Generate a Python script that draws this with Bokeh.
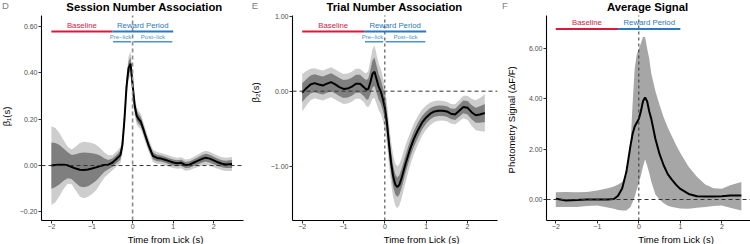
import numpy as np
from bokeh.plotting import figure
from bokeh.layouts import row, column
from bokeh.models import Span, Label, FixedTicker, Range1d
from bokeh.core.properties import value
from bokeh.embed import file_html
from bokeh.resources import INLINE

FONT = "Liberation Sans"

# ---------------- data ----------------
x_ticks = [-2, -1, 0, 1, 2]
x_tick_labels = ["\u22122", "\u22121", "0", "1", "2"]

# Panel D: Session Number Association
t_d = [-2.0, -1.9, -1.8, -1.7, -1.6, -1.5, -1.4, -1.3, -1.2, -1.1, -1.0, -0.9, -0.8, -0.7,
       -0.6, -0.5, -0.4, -0.3, -0.25, -0.2, -0.15, -0.1, -0.05, 0.0, 0.05, 0.1, 0.15, 0.2,
       0.25, 0.3, 0.4, 0.5, 0.6, 0.7, 0.8, 0.9, 1.0, 1.1, 1.2, 1.3, 1.4, 1.5, 1.6, 1.7, 1.8,
       1.9, 2.0, 2.1, 2.2, 2.3, 2.45]
mean_d = [0.000, 0.002, 0.004, 0.004, 0.001, -0.006, -0.013, -0.018, -0.019, -0.017, -0.013,
          -0.008, -0.002, 0.002, 0.004, 0.012, 0.028, 0.045, 0.09, 0.20, 0.34, 0.42, 0.44,
          0.35, 0.26, 0.215, 0.20, 0.19, 0.165, 0.137, 0.085, 0.042, 0.033, 0.030, 0.025,
          0.019, 0.013, 0.010, 0.012, 0.002, 0.004, 0.012, 0.020, 0.028, 0.034, 0.030, 0.022,
          0.014, 0.008, 0.005, 0.007]
inner_d = [0.100, 0.095, 0.085, 0.070, 0.056, 0.052, 0.062, 0.072, 0.075, 0.072, 0.066,
           0.058, 0.045, 0.030, 0.020, 0.018, 0.018, 0.020, 0.022, 0.025, 0.027, 0.028, 0.028,
           0.026, 0.024, 0.022, 0.020, 0.019, 0.018, 0.017, 0.016, 0.015, 0.014, 0.013, 0.013,
           0.013, 0.013, 0.013, 0.013, 0.013, 0.013, 0.014, 0.015, 0.016, 0.017, 0.017, 0.016,
           0.015, 0.015, 0.016, 0.017]
outer_d = [0.170, 0.160, 0.135, 0.105, 0.080, 0.075, 0.095, 0.115, 0.122, 0.118, 0.110,
           0.098, 0.078, 0.055, 0.040, 0.033, 0.032, 0.034, 0.037, 0.042, 0.046, 0.050, 0.052,
           0.048, 0.042, 0.038, 0.035, 0.033, 0.031, 0.030, 0.028, 0.027, 0.025, 0.024, 0.024,
           0.024, 0.024, 0.024, 0.024, 0.024, 0.024, 0.025, 0.027, 0.029, 0.030, 0.030, 0.029,
           0.028, 0.028, 0.029, 0.030]
y_ticks_d = [-0.2, 0.0, 0.2, 0.4, 0.6]
y_tick_labels_d = ["\u22120.20", "0.00", "0.20", "0.40", "0.60"]

# Panel E: Trial Number Association
t_e = [-2.0, -1.9, -1.8, -1.7, -1.6, -1.5, -1.4, -1.3, -1.2, -1.1, -1.0, -0.9, -0.8, -0.7,
       -0.6, -0.5, -0.45, -0.4, -0.35, -0.3, -0.25, -0.2, -0.15, -0.1, -0.05, 0.0, 0.05, 0.1,
       0.15, 0.2, 0.25, 0.3, 0.35, 0.4, 0.5, 0.6, 0.7, 0.8, 0.9, 1.0, 1.1, 1.2, 1.3, 1.4, 1.5,
       1.6, 1.7, 1.8, 1.9, 2.0, 2.1, 2.2, 2.3, 2.42]
mean_e = [-0.02, 0.04, 0.09, 0.107, 0.09, 0.076, 0.10, 0.12, 0.09, 0.055, 0.03, 0.035, 0.06,
          0.10, 0.10, 0.05, 0.02, 0.03, 0.12, 0.23, 0.26, 0.16, 0.06, 0.0, -0.10, -0.22, -0.42,
          -0.70, -0.95, -1.13, -1.24, -1.28, -1.25, -1.17, -0.97, -0.79, -0.64, -0.52, -0.42,
          -0.35, -0.30, -0.27, -0.26, -0.26, -0.27, -0.30, -0.31, -0.26, -0.21, -0.22, -0.28,
          -0.32, -0.31, -0.29]
inner_e = [0.125, 0.12, 0.12, 0.12, 0.12, 0.12, 0.12, 0.12, 0.12, 0.12, 0.12, 0.12, 0.12,
           0.12, 0.12, 0.12, 0.13, 0.14, 0.16, 0.18, 0.19, 0.18, 0.17, 0.16, 0.155, 0.15,
           0.15, 0.15, 0.145, 0.14, 0.135, 0.13, 0.13, 0.13, 0.12, 0.11, 0.105, 0.10, 0.09,
           0.08, 0.075, 0.07, 0.07, 0.07, 0.07, 0.07, 0.075, 0.08, 0.085, 0.09, 0.095, 0.10,
           0.11, 0.12]
outer_e = [0.25, 0.23, 0.21, 0.20, 0.20, 0.20, 0.20, 0.20, 0.20, 0.20, 0.20, 0.20, 0.20,
           0.20, 0.20, 0.20, 0.22, 0.24, 0.29, 0.33, 0.35, 0.33, 0.31, 0.30, 0.29, 0.28, 0.28,
           0.28, 0.28, 0.28, 0.28, 0.28, 0.275, 0.27, 0.25, 0.22, 0.205, 0.19, 0.175, 0.16,
           0.15, 0.14, 0.135, 0.13, 0.13, 0.13, 0.135, 0.14, 0.15, 0.16, 0.18, 0.20, 0.22, 0.25]
y_ticks_e = [-1.0, 0.0, 1.0]
y_tick_labels_e = ["\u22121.00", "0.00", "1.00"]

# Panel F: Average Signal
t_f = [-2.0, -1.75, -1.5, -1.25, -1.0, -0.75, -0.6, -0.5, -0.4, -0.3, -0.2, -0.15, -0.1,
       -0.05, 0.0, 0.05, 0.1, 0.15, 0.2, 0.25, 0.3, 0.4, 0.5, 0.6, 0.7, 0.8, 0.9, 1.0, 1.2,
       1.4, 1.6, 1.8, 2.0, 2.2, 2.47]
mean_f = [0.03, -0.04, -0.02, 0.0, 0.0, 0.0, 0.02, 0.15, 0.45, 1.1, 2.15, 2.6, 2.9, 3.05,
          3.2, 3.5, 3.9, 4.05, 3.9, 3.5, 3.2, 2.4, 1.8, 1.35, 1.0, 0.78, 0.58, 0.42, 0.22,
          0.13, 0.12, 0.12, 0.13, 0.16, 0.16]
upper_f = [0.29, 0.30, 0.29, 0.30, 0.36, 0.45, 0.52, 0.60, 0.69, 0.95, 2.2, 3.8, 5.2, 5.75,
           5.98, 6.2, 6.45, 6.45, 6.0, 5.6, 5.0, 4.3, 3.75, 3.25, 2.85, 2.5, 2.15, 1.85, 1.3,
           0.9, 0.6, 0.45, 0.43, 0.57, 0.69]
lower_f = [-0.30, -0.30, -0.30, -0.26, -0.24, -0.32, -0.37, -0.42, -0.44, -0.44, -0.30,
           -0.10, 0.10, 0.40, 0.65, 0.95, 1.30, 1.60, 1.35, 1.05, 0.70, 0.20, 0.0, -0.15,
           -0.25, -0.30, -0.33, -0.36, -0.37, -0.33, -0.30, -0.26, -0.24, -0.33, -0.44]
y_ticks_f = [0.0, 2.0, 4.0, 6.0]
y_tick_labels_f = ["0.00", "2.00", "4.00", "6.00"]

# period annotations (time windows)
baseline_window = [-2.0, -0.5]
reward_window = [-0.5, 1.0]
prelick_window = [-0.48, -0.04]
postlick_window = [0.02, 0.98]

RED = "#D7193C"
BLUE = "#2A78BD"
LBLUE = "#4A93D0"

MAIN_H = 233      # main figure height; frame spans canvas y 0..220
BOTTOM_H = 11     # strip under the main figure for the x-axis title
FRAME_H = 220


def bare(width, height):
    s = figure(width=width, height=height, output_backend="svg", toolbar_location=None,
               x_range=Range1d(0, 1), y_range=Range1d(0, 1),
               x_axis_location=None, y_axis_location=None,
               min_border_left=0, min_border_right=0, min_border_top=0, min_border_bottom=0)
    s.outline_line_color = None
    s.grid.visible = False
    s.background_fill_color = "white"
    s.border_fill_color = "white"
    return s


def make_panel(letter, title, ylab, xr, yr, y_axis_top, yticks, ylabels,
               strip_w, b_left, b_right, letter_x, ylab_x, ylab_y, title_x, xlab_x):
    main_w = 250 - strip_w
    p = figure(width=main_w, height=MAIN_H, output_backend="svg", toolbar_location=None,
               x_range=Range1d(*xr), y_range=Range1d(*yr),
               min_border_left=b_left, min_border_right=b_right,
               min_border_top=0, min_border_bottom=MAIN_H - FRAME_H)
    p.outline_line_color = None
    p.grid.visible = False
    p.background_fill_color = "white"
    p.border_fill_color = "white"

    for ax in (p.xaxis[0], p.yaxis[0]):
        ax.axis_line_color = "black"
        ax.axis_line_width = 1.1
        ax.major_tick_line_color = "#333333"
        ax.major_tick_in = 0
        ax.major_tick_out = 3
        ax.minor_tick_line_color = None
        ax.major_label_text_font = FONT
        ax.major_label_text_font_size = "7px"
        ax.major_label_text_color = "#4D4D4D"

    p.xaxis.ticker = FixedTicker(ticks=x_ticks)
    p.xaxis.major_label_overrides = dict(zip(x_ticks, x_tick_labels))
    p.xaxis.major_label_standoff = 0
    p.yaxis.ticker = FixedTicker(ticks=yticks)
    p.yaxis.major_label_overrides = dict(zip(yticks, ylabels))
    p.yaxis.major_label_standoff = 1
    p.yaxis.bounds = (yr[0], y_axis_top)

    p.add_layout(Label(x=title_x, y=FRAME_H - 6, x_units="screen", y_units="screen",
                       text=title, text_font=FONT, text_font_size="11.3px",
                       text_font_style="bold", text_color="black",
                       text_align="center", text_baseline="middle"))

    left = bare(strip_w, 244)
    left.add_layout(Label(x=letter_x, y=244 - 5, x_units="screen", y_units="screen",
                          text=letter, text_font=FONT, text_font_size="9.5px",
                          text_color="#808080", text_align="center",
                          text_baseline="middle"))
    left.add_layout(Label(x=ylab_x, y=ylab_y, x_units="screen", y_units="screen",
                          text=ylab, text_font=FONT, text_font_size="9.5px",
                          text_color="black", text_align="center", text_baseline="middle",
                          angle=np.pi / 2))

    bottom = bare(main_w, BOTTOM_H)
    bottom.add_layout(Label(x=xlab_x, y=6, x_units="screen", y_units="screen",
                            text="Time from Lick (s)", text_font=FONT,
                            text_font_size="9.5px", text_color="black",
                            text_align="center", text_baseline="middle"))
    return p, row(left, column(p, bottom))


def add_refs(p, yr, y_axis_top, v_color, v_dash, v_width):
    p.add_layout(Span(location=0, dimension="width", line_color="#333333", line_dash="4 3",
                      line_width=1))
    p.segment(x0=[0], x1=[0], y0=[yr[0]], y1=[y_axis_top], line_color=v_color,
              line_dash=v_dash, line_width=v_width)


def add_periods(p, y_bar, y_text, y_sub_bar=None, y_sub_text=None):
    p.segment(x0=[baseline_window[0]], x1=[baseline_window[1]], y0=[y_bar], y1=[y_bar],
              line_color=RED, line_width=2)
    p.segment(x0=[reward_window[0]], x1=[reward_window[1]], y0=[y_bar], y1=[y_bar],
              line_color=BLUE, line_width=2)
    p.text(x=[sum(baseline_window) / 2], y=[y_text], text=["Baseline"],
           text_font=value(FONT), text_font_size="7.8px", text_color=RED,
           text_align="center", text_baseline="middle")
    p.text(x=[sum(reward_window) / 2], y=[y_text], text=["Reward Period"],
           text_font=value(FONT), text_font_size="7.8px", text_color=BLUE,
           text_align="center", text_baseline="middle")
    if y_sub_bar is not None:
        p.segment(x0=[prelick_window[0], postlick_window[0]],
                  x1=[prelick_window[1], postlick_window[1]],
                  y0=[y_sub_bar, y_sub_bar], y1=[y_sub_bar, y_sub_bar],
                  line_color=LBLUE, line_width=1.5)
        p.text(x=[-0.3, 0.5], y=[y_sub_text, y_sub_text],
               text=["Pre\u2212lick", "Post\u2212lick"],
               text_font=value(FONT), text_font_size="6px", text_color=LBLUE,
               text_align="center", text_baseline="middle")


# ---------------- panel D ----------------
yr_d = (-0.237, 0.712)
pD, panelD = make_panel("D", "Session Number Association", "\u03b2\u2081(s)",
                        (-2.244, 2.732), yr_d, 0.647, y_ticks_d, y_tick_labels_d,
                        16, 23, 7, 5, 5.5, 128, 103, 124)
md, idd, od = np.array(mean_d), np.array(inner_d), np.array(outer_d)
pD.varea(x=t_d, y1=md - od, y2=md + od, fill_color="#CDCDCD")
pD.varea(x=t_d, y1=md - idd, y2=md + idd, fill_color="#7F7F7F")
pD.line(x=t_d, y=mean_d, line_color="black", line_width=2)
add_refs(pD, yr_d, 0.647, "#8C8C8C", "4 3", 1.6)
add_periods(pD, 0.578, 0.604, 0.534, 0.553)

# ---------------- panel E ----------------
yr_e = (-1.724, 1.209)
pE, panelE = make_panel("E", "Trial Number Association", "\u03b2\u2082(s)",
                        (-2.235, 2.727), yr_e, 1.009, y_ticks_e, y_tick_labels_e,
                        16, 26, 3, 4.5, 5, 152, 102, 129)
me, ie, oe = np.array(mean_e), np.array(inner_e), np.array(outer_e)
pE.varea(x=t_e, y1=me - oe, y2=me + oe, fill_color="#CDCDCD")
pE.varea(x=t_e, y1=me - ie, y2=me + ie, fill_color="#7F7F7F")
pE.line(x=t_e, y=mean_e, line_color="black", line_width=2)
add_refs(pE, yr_e, 1.009, "#333333", "3 3", 1)
add_periods(pE, 0.796, 0.876, 0.659, 0.716)

# ---------------- panel F ----------------
yr_f = (-0.833, 7.897)
pF, panelF = make_panel("F", "Average Signal", "Photometry Signal  (\u0394F/F)",
                        (-2.224, 2.69), yr_f, 7.30, y_ticks_f, y_tick_labels_f,
                        18, 28, 0, 4.5, 11, 126, 101, 129.5)
pF.varea(x=t_f, y1=lower_f, y2=upper_f, fill_color="#A6A6A6")
pF.line(x=t_f, y=mean_f, line_color="black", line_width=2)
add_refs(pF, yr_f, 7.30, "#333333", "3 3", 1)
add_periods(pF, 6.77, 7.01)

layout = row(panelD, panelE, panelF)
open("out.html", "w").write(file_html(layout, INLINE))
